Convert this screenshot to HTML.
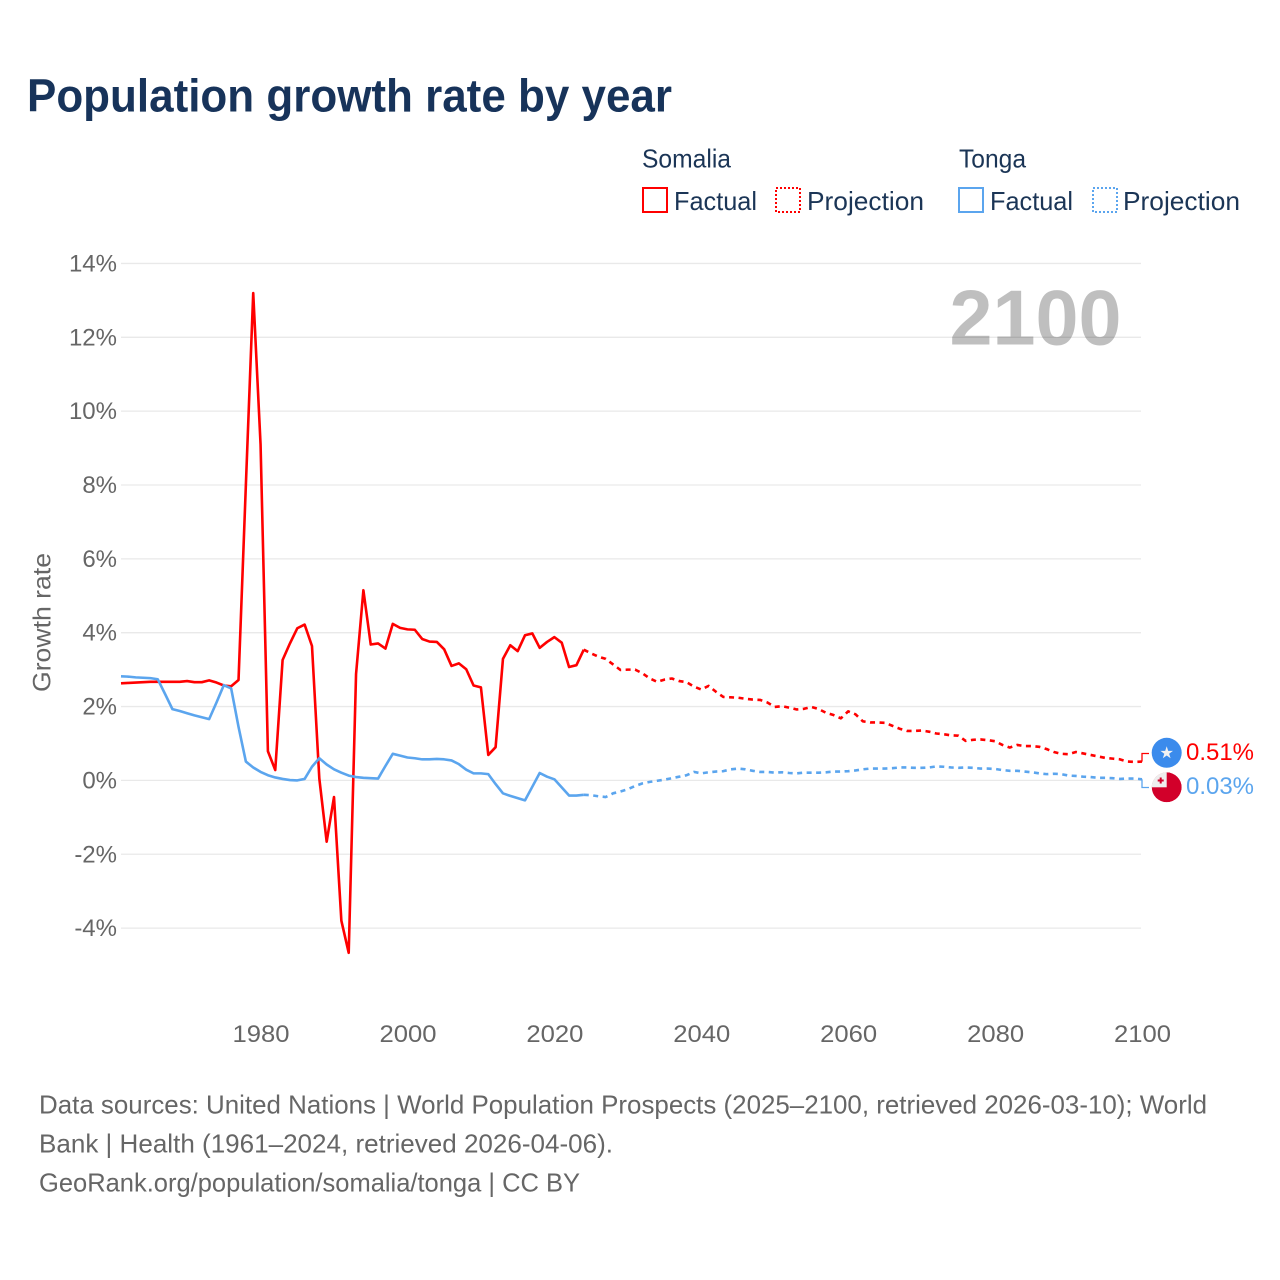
<!DOCTYPE html>
<html lang="en">
<head>
<meta charset="utf-8">
<title>Population growth rate by year</title>
<style>
html,body{margin:0;padding:0;background:#fff;width:1280px;height:1280px;overflow:hidden}
svg{display:block}
text{font-family:"Liberation Sans",sans-serif}
</style>
</head>
<body>
<svg id="chart" xmlns="http://www.w3.org/2000/svg" width="1280" height="1280" viewBox="0 0 1280 1280">
  <defs>
    <clipPath id="flag-clip-somalia"><circle cx="1166.7" cy="752.8" r="15"/></clipPath>
    <clipPath id="flag-clip-tonga"><circle cx="1166.7" cy="787.3" r="15"/></clipPath>
  </defs>
  <rect x="0" y="0" width="1280" height="1280" fill="#fff"/>
  <text x="27" y="111.500" font-size="46" font-weight="700" fill="#17335a" textLength="645" lengthAdjust="spacingAndGlyphs">Population growth rate by year</text>

  <g font-size="26" fill="#1b3556">
    <text x="642" y="167.500" textLength="89" lengthAdjust="spacingAndGlyphs">Somalia</text>
    <text x="959" y="167.500" textLength="67" lengthAdjust="spacingAndGlyphs">Tonga</text>
    <rect x="643" y="188" width="24" height="24" fill="none" stroke="#ff0000" stroke-width="2"/>
    <text x="674" y="210" textLength="83" lengthAdjust="spacingAndGlyphs">Factual</text>
    <rect x="776" y="188" width="24" height="24" fill="none" stroke="#ff0000" stroke-width="2" stroke-dasharray="2 2"/>
    <text x="807" y="210" textLength="117" lengthAdjust="spacingAndGlyphs">Projection</text>
    <rect x="959" y="188" width="24" height="24" fill="none" stroke="#5ba5ee" stroke-width="2"/>
    <text x="990" y="210" textLength="83" lengthAdjust="spacingAndGlyphs">Factual</text>
    <rect x="1093" y="188" width="24" height="24" fill="none" stroke="#5ba5ee" stroke-width="2" stroke-dasharray="2 2"/>
    <text x="1123" y="210" textLength="117" lengthAdjust="spacingAndGlyphs">Projection</text>
  </g>

  <g id="grid"></g>
  <g id="y-labels"></g>
  <g id="x-labels"></g>
  <text transform="translate(50.500,622.500) rotate(-90)" text-anchor="middle" font-size="25" fill="#666" textLength="139" lengthAdjust="spacingAndGlyphs">Growth rate</text>
  <text id="year-watermark" x="1121.500" y="344.500" text-anchor="end" font-size="78" font-weight="700" fill="#000" fill-opacity="0.25" textLength="172" lengthAdjust="spacingAndGlyphs"></text>
  <g id="series"></g>

  <g>
    <circle cx="1166.7" cy="752.8" r="15" fill="#3b8bec"/>
    <polygon points="1166.7,746.300 1168.200,750.900 1173,750.900 1169.100,753.700 1170.600,758.300 1166.700,755.500 1162.800,758.300 1164.300,753.700 1160.400,750.900 1165.200,750.900" fill="#f2f2f2"/>
  </g>
  <g clip-path="url(#flag-clip-tonga)">
    <circle cx="1166.7" cy="787.3" r="15" fill="#d2002a"/>
    <rect x="1151" y="772" width="15.700" height="15.300" fill="#eeeeee"/>
    <rect x="1159.700" y="777.500" width="2" height="6" fill="#d2002a"/>
    <rect x="1157.700" y="779.500" width="6" height="2" fill="#d2002a"/>
  </g>
  <g id="end-labels"></g>

  <g font-size="26" fill="#666">
    <text x="39" y="1113.500" textLength="1168" lengthAdjust="spacingAndGlyphs">Data sources: United Nations | World Population Prospects (2025–2100, retrieved 2026-03-10); World</text>
    <text x="39" y="1152.500" textLength="574" lengthAdjust="spacingAndGlyphs">Bank | Health (1961–2024, retrieved 2026-04-06).</text>
    <text x="39" y="1191.500" textLength="541" lengthAdjust="spacingAndGlyphs">GeoRank.org/population/somalia/tonga | CC BY</text>
  </g>
</svg>
<script>
const years = [
1961,1962,1963,1964,1965,1966,1967,1968,1969,1970,
1971,1972,1973,1974,1975,1976,1977,1978,1979,1980,
1981,1982,1983,1984,1985,1986,1987,1988,1989,1990,
1991,1992,1993,1994,1995,1996,1997,1998,1999,2000,
2001,2002,2003,2004,2005,2006,2007,2008,2009,2010,
2011,2012,2013,2014,2015,2016,2017,2018,2019,2020,
2021,2022,2023,2024,2025,2026,2027,2028,2029,2030,
2031,2032,2033,2034,2035,2036,2037,2038,2039,2040,
2041,2042,2043,2044,2045,2046,2047,2048,2049,2050,
2051,2052,2053,2054,2055,2056,2057,2058,2059,2060,
2061,2062,2063,2064,2065,2066,2067,2068,2069,2070,
2071,2072,2073,2074,2075,2076,2077,2078,2079,2080,
2081,2082,2083,2084,2085,2086,2087,2088,2089,2090,
2091,2092,2093,2094,2095,2096,2097,2098,2099,2100];
const somaliaValues = [
2.63,2.64,2.65,2.66,2.67,2.67,2.67,2.67,2.67,2.69,
2.66,2.66,2.71,2.65,2.57,2.55,2.72,8.0,13.2,9.1,
0.79,0.28,3.26,3.71,4.12,4.22,3.64,0.05,-1.66,-0.45,
-3.80,-4.67,2.88,5.15,3.68,3.71,3.57,4.24,4.13,4.09,
4.08,3.83,3.76,3.75,3.55,3.10,3.17,3.01,2.57,2.52,
0.69,0.90,3.29,3.66,3.50,3.93,3.98,3.59,3.75,3.88,
3.73,3.07,3.12,3.54,3.44,3.35,3.29,3.14,2.99,3.00,
3.00,2.90,2.76,2.67,2.73,2.76,2.69,2.66,2.54,2.46,
2.56,2.40,2.26,2.25,2.24,2.21,2.19,2.18,2.11,1.99,
2.01,1.97,1.92,1.94,1.99,1.93,1.83,1.77,1.68,1.87,
1.79,1.60,1.57,1.57,1.56,1.48,1.40,1.34,1.34,1.35,
1.32,1.27,1.25,1.22,1.21,1.07,1.10,1.11,1.09,1.06,
0.96,0.89,0.96,0.93,0.93,0.91,0.85,0.77,0.72,0.71,
0.77,0.73,0.69,0.65,0.61,0.59,0.57,0.51,0.50,0.51];
const tongaValues = [
2.82,2.81,2.79,2.78,2.77,2.74,2.34,1.93,1.88,1.82,
1.76,1.71,1.66,2.11,2.58,2.49,1.45,0.51,0.35,0.23,
0.14,0.08,0.04,0.01,0.00,0.04,0.37,0.60,0.43,0.30,
0.21,0.13,0.09,0.07,0.06,0.05,0.39,0.72,0.67,0.62,
0.60,0.57,0.57,0.58,0.57,0.54,0.44,0.29,0.19,0.19,
0.17,-0.10,-0.35,-0.42,-0.48,-0.54,-0.17,0.20,0.10,0.03,
-0.19,-0.41,-0.41,-0.39,-0.40,-0.43,-0.45,-0.35,-0.30,-0.24,
-0.15,-0.08,-0.04,-0.01,0.02,0.06,0.10,0.14,0.23,0.19,
0.22,0.24,0.25,0.30,0.32,0.30,0.26,0.23,0.23,0.21,
0.22,0.20,0.19,0.21,0.21,0.21,0.22,0.24,0.24,0.25,
0.27,0.30,0.32,0.32,0.32,0.33,0.35,0.35,0.34,0.34,
0.35,0.38,0.37,0.35,0.34,0.35,0.34,0.32,0.32,0.31,
0.28,0.26,0.26,0.24,0.22,0.19,0.17,0.18,0.17,0.13,
0.12,0.10,0.09,0.07,0.07,0.06,0.04,0.05,0.05,0.03];
const lastFactualYear = 2024;
const yTicks = [14,12,10,8,6,4,2,0,-2,-4];
const yTickLabels = ["14%","12%","10%","8%","6%","4%","2%","0%","-2%","-4%"];
const xTicks = [1980,2000,2020,2040,2060,2080,2100];
const xTickLabels = ["1980","2000","2020","2040","2060","2080","2100"];
const endValueLabels = ["0.51%","0.03%"];

const SVG_NS = "http://www.w3.org/2000/svg";
const x0 = 121, x1 = 1142, y0 = 780.4, pxPerUnit = 36.925;
const firstYear = years[0];
const lastYear = years[years.length - 1];
function xScale(year) { return x0 + (year - firstYear) * (x1 - x0) / (lastYear - firstYear); }
function yScale(value) { return y0 - value * pxPerUnit; }
function mk(tag, parent, attrs) {
  const el = document.createElementNS(SVG_NS, tag);
  for (const k in attrs) el.setAttribute(k, attrs[k]);
  parent.appendChild(el);
  return el;
}
function pathFor(values, from, to) {
  const pts = [];
  years.forEach(function (yr, i) {
    if (yr >= from && yr <= to) pts.push(xScale(yr).toFixed(2) + "," + yScale(values[i]).toFixed(2));
  });
  return "M" + pts.join("L");
}

const grid = document.getElementById("grid");
const yLabels = document.getElementById("y-labels");
yTicks.forEach(function (tick, i) {
  const line = mk("line", grid, {x1: x0, x2: x1 - 1, y1: yScale(tick), y2: yScale(tick), stroke: "#e9e9e9", "stroke-width": 1.3});
  
  
  const label = mk("text", yLabels, {x: 117, y: yScale(tick) + 8, "text-anchor": "end", "font-size": 24, fill: "#666"});
  
  
  label.textContent = yTickLabels[i];
});
const xLabels = document.getElementById("x-labels");
xTicks.forEach(function (tick, i) {
  const label = mk("text", xLabels, {x: xScale(tick) + 0.5, y: 1042, "text-anchor": "middle", "font-size": 24, fill: "#666", textLength: 57, lengthAdjust: "spacingAndGlyphs"});
  
  
  label.textContent = xTickLabels[i];
});
document.getElementById("year-watermark").textContent = String(lastYear);

const seriesGroup = document.getElementById("series");
const lineAttrs = {fill: "none", "stroke-width": 2.6, "stroke-linejoin": "round"};
const somaliaFactual = mk("path", seriesGroup, Object.assign({d: pathFor(somaliaValues, firstYear, lastFactualYear), stroke: "#ff0000"}, lineAttrs));


const somaliaProjection = mk("path", seriesGroup, Object.assign({d: pathFor(somaliaValues, lastFactualYear, lastYear), stroke: "#ff0000", "stroke-dasharray": "5 4.500"}, lineAttrs));


const tongaFactual = mk("path", seriesGroup, Object.assign({d: pathFor(tongaValues, firstYear, lastFactualYear), stroke: "#5ba5ee"}, lineAttrs));


const tongaProjection = mk("path", seriesGroup, Object.assign({d: pathFor(tongaValues, lastFactualYear, lastYear), stroke: "#5ba5ee", "stroke-dasharray": "5 4.500"}, lineAttrs));



const endLabels = document.getElementById("end-labels");
const somaliaEnd = yScale(somaliaValues[somaliaValues.length - 1]);
const tongaEnd = yScale(tongaValues[tongaValues.length - 1]);
const somaliaConnector = mk("path", endLabels, {d: "M" + x1 + "," + somaliaEnd + "V753.500H1149", fill: "none", stroke: "#ff0000", "stroke-width": 1.3});


const tongaConnector = mk("path", endLabels, {d: "M" + x1 + "," + tongaEnd + "V787.500H1149", fill: "none", stroke: "#5ba5ee", "stroke-width": 1.3});


const somaliaValueLabel = mk("text", endLabels, {x: 1186, y: 760, "font-size": 24, fill: "#ff0000", textLength: 68, lengthAdjust: "spacingAndGlyphs"});


somaliaValueLabel.textContent = endValueLabels[0];
const tongaValueLabel = mk("text", endLabels, {x: 1186, y: 794, "font-size": 24, fill: "#5ba5ee", textLength: 68, lengthAdjust: "spacingAndGlyphs"});


tongaValueLabel.textContent = endValueLabels[1];
</script>
</body>
</html>
